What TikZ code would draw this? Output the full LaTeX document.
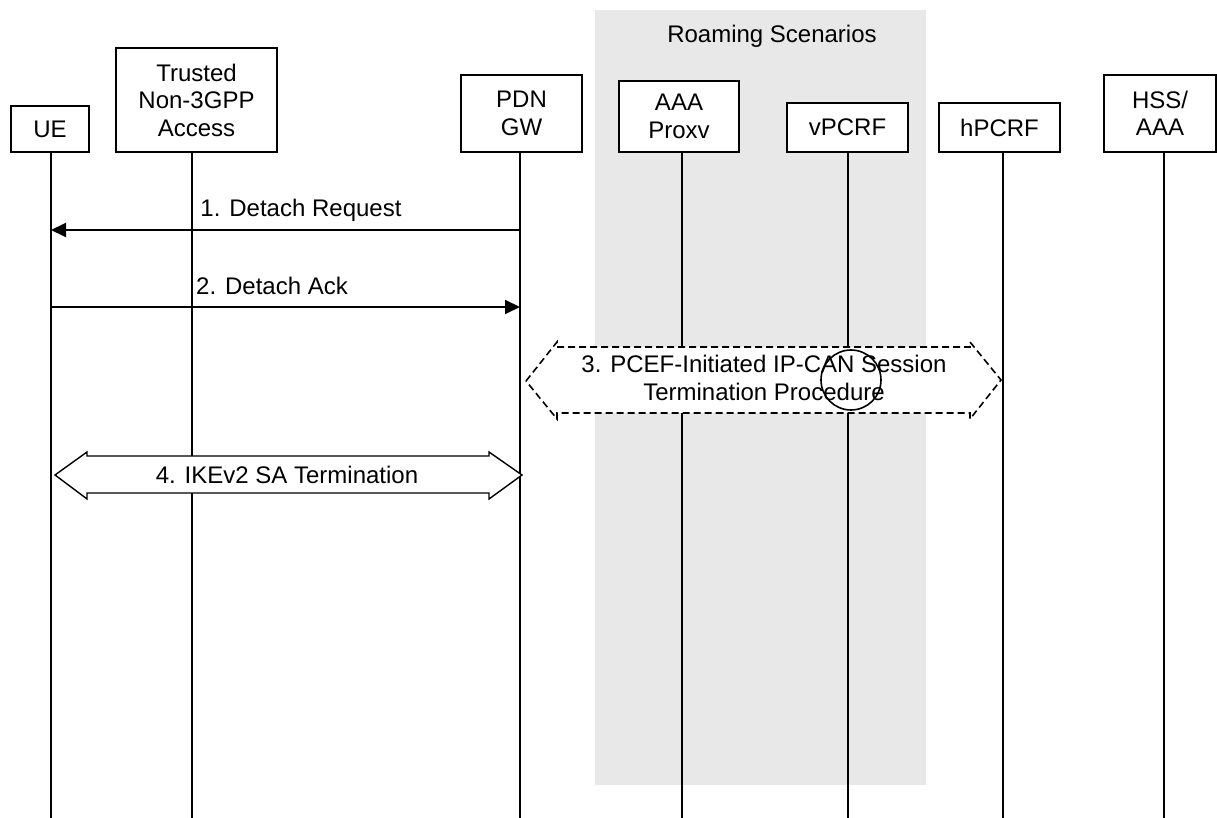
\documentclass[tikz,border=0pt]{standalone}
\usepackage{fontspec}
\setmainfont{Liberation Sans}
\usetikzlibrary{arrows.meta}
\definecolor{roam}{RGB}{232,232,232}
\begin{document}
\begin{tikzpicture}[x=0.5pt,y=-0.5pt,
  font=\fontsize{12}{13.75}\selectfont,
  box/.style={draw, line width=0.7pt, inner sep=0pt, align=center, fill=white},
  life/.style={line width=0.7pt},
  msg/.style={line width=1pt, -{Triangle[length=7.5pt,width=7pt]}},
  lbl/.style={inner sep=0pt, align=center},
  procarrow/.style={line width=0.8pt, dash pattern=on 3.5pt off 2pt, fill=white},
  ikearrow/.style={line width=0.7pt, fill=white}]
\useasboundingbox (0,0) rectangle (1217,818);
% roaming area
\fill[roam] (595,10) rectangle (926,785);
\node[lbl] (roamlbl) at (772,36) {Roaming Scenarios};
% entities
\node[box, minimum width=39pt, minimum height=23pt] (ue) at (50,129) {UE};
\node[box, minimum width=80.5pt, minimum height=52pt] (tn) at (196.5,100) {Trusted\\Non-3GPP\\Access};
\node[box, minimum width=60.5pt, minimum height=38.5pt] (pdn) at (521.5,113.5) {PDN\\GW};
\node[box, minimum width=60pt, minimum height=35.5pt] (aaa) at (679,116.5) {AAA\\Proxv};
\node[box, minimum width=60.5pt, minimum height=24.5pt] (vp) at (847.5,127.5) {vPCRF};
\node[box, minimum width=60.5pt, minimum height=24.5pt] (hp) at (999.5,127.5) {hPCRF};
\node[box, minimum width=56pt, minimum height=38.5pt] (hss) at (1160,113.5) {HSS/\\AAA};
% lifeline ends
\coordinate (ueE) at (51,818);
\coordinate (tnE) at (192,818);
\coordinate (pdnE) at (520,818);
\coordinate (aaaE) at (682,818);
\coordinate (vpE) at (848,818);
\coordinate (hpE) at (1003,818);
\coordinate (hssE) at (1164,818);
\draw[life] (ue.south -| ueE) -- (ueE);
\draw[life] (tn.south -| tnE) -- (tnE);
\draw[life] (pdn.south -| pdnE) -- (pdnE);
\draw[life] (aaa.south -| aaaE) -- (aaaE);
\draw[life] (vp.south -| vpE) -- (vpE);
\draw[life] (hp.south -| hpE) -- (hpE);
\draw[life] (hss.south -| hssE) -- (hssE);
% messages
\coordinate (y1) at (0,230);
\coordinate (y2) at (0,307);
\draw[msg] (pdnE |- y1) -- (ueE |- y1);
\node[lbl] (l1) at (301,210) {1. Detach Request};
\draw[msg] (ueE |- y2) -- (pdnE |- y2);
\node[lbl] (l2) at (272,286) {2. Detach Ack};
% step 3
\draw[procarrow] (526,381) -- (557,342) -- (557,347) -- (970,347) -- (970,342)
  -- (1001,380) -- (970,419) -- (970,413) -- (557,413) -- (557,419) -- cycle;
\node[lbl] (l3) at (764,378) {3. PCEF-Initiated IP-CAN Session\\Termination Procedure};
\node[draw, circle, line width=0.8pt, inner sep=0pt, minimum size=30pt] (circ) at (851,380) {};
% step 4
\draw[ikearrow] (55,475) -- (87,452) -- (87,456) -- (489,456) -- (489,452)
  -- (522,475) -- (489,499) -- (489,493) -- (87,493) -- (87,499) -- cycle;
\node[lbl] (l4) at (287,475) {4. IKEv2 SA Termination};
\end{tikzpicture}
\end{document}
